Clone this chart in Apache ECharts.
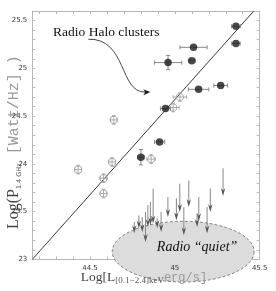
<!DOCTYPE html>
<html><head><meta charset="utf-8">
<script src="https://cdn.jsdelivr.net/npm/echarts@6/dist/echarts.min.js"></script>
<style>html,body{margin:0;padding:0;background:#fff}#c{width:276px;height:291px}</style>
</head><body><div id="c"></div>
<script>
// ---- axis ranges & ticks ----
const xMin = 44.16, xMax = 45.5, yMin = 23, yMax = 25.6;
const xMajor = [44.5, 45, 45.5];
const yMajor = [23, 23.5, 24, 24.5, 25, 25.5];
const xMinor = [44.2,44.3,44.4,44.5,44.6,44.7,44.8,44.9,45,45.1,45.2,45.3,45.4,45.5];
const yMinor = [23.1,23.2,23.3,23.4,23.5,23.6,23.7,23.8,23.9,24,24.1,24.2,24.3,24.4,24.5,24.6,24.7,24.8,24.9,25,25.1,25.2,25.3,25.4,25.5];

// ---- Radio halo clusters (filled) ----
const haloX    = [45.36, 45.36, 45.11, 44.96, 45.10, 45.27, 45.14, 44.945, 44.91, 44.80];
const haloY    = [25.44, 25.26, 25.22, 25.06, 25.08, 24.82, 24.78, 24.58, 24.23, 24.07];
const haloXErr = [0.026, 0.025, 0.08, 0.08, 0.02, 0.04, 0.06, 0.03, 0.03, 0.02];
const haloYErr = [0.0, 0.0, 0.0, 0.075, 0.0, 0.0, 0.0, 0.0, 0.0, 0.08];

// ---- other detections (open) ----
const openX    = [45.03, 44.99, 44.86, 44.64, 44.43, 44.63, 44.58, 44.58];
const openY    = [24.70, 24.59, 24.05, 24.46, 23.94, 24.02, 23.85, 23.69];
const openXErr = [0.04, 0.035, 0.025, 0.02, 0.02, 0.02, 0.02, 0.02];
const openYErr = [0.045, 0.045, 0.045, 0.045, 0.045, 0.045, 0.045, 0.045];

// ---- upper limits (arrows) ----
const ulX      = [45.284,45.209,45.141,45.19,45.131,45.082,45.029,45.053,45.009,44.959,44.919,44.872,44.856,44.841,44.827,44.808,44.788,44.896,44.761];
const ulTop    = [23.954,23.743,23.652,23.548,23.482,23.826,23.792,23.548,23.639,23.652,23.496,23.74,23.6,23.566,23.496,23.444,23.461,23.43,23.392];
const ulBottom = [23.663,23.496,23.399,23.271,23.34,23.548,23.496,23.253,23.409,23.444,23.288,23.375,23.357,23.34,23.183,23.288,23.323,23.326,23.274];

// ---- fit line ----
const fitX = [44.16, 45.465];
const fitY = [23.0, 25.6];

// ---- "radio quiet" region (centre x, centre y, radius x, radius y) ----
const quietRegion = [45.049, 23.081, 0.418, 0.318];

// ---- annotations ----
const haloLabel = 'Radio Halo clusters';
const haloLabelPos = [44.596, 25.378];
const quietLabel = 'Radio \u201cquiet\u201d';
const quietLabelPos = [45.131, 23.128];
const curvePts = [[44.49, 25.305], [44.719, 25.316], [44.672, 24.743], [44.855, 24.753]];

const chart = echarts.init(document.getElementById('c'), null, {renderer: 'canvas'});

const frameColor = '#b8b8b8';
const labelStyle = {fontFamily: 'DejaVu Sans', fontSize: 7, color: '#333'};

function errRender(color, capHalf) {
  return function (params, api) {
    const x = api.value(0), y = api.value(1), dx = api.value(2), dy = api.value(3);
    const st = {stroke: color, lineWidth: 1};
    const ch = [];
    if (dx > 0) {
      const l = api.coord([x - dx, y]), r = api.coord([x + dx, y]);
      ch.push({type: 'line', shape: {x1: l[0], y1: l[1], x2: r[0], y2: r[1]}, style: st});
      ch.push({type: 'line', shape: {x1: l[0], y1: l[1] - capHalf, x2: l[0], y2: l[1] + capHalf}, style: st});
      ch.push({type: 'line', shape: {x1: r[0], y1: r[1] - capHalf, x2: r[0], y2: r[1] + capHalf}, style: st});
    }
    if (dy > 0) {
      const t = api.coord([x, y + dy]), b = api.coord([x, y - dy]);
      ch.push({type: 'line', shape: {x1: t[0], y1: t[1], x2: b[0], y2: b[1]}, style: st});
      ch.push({type: 'line', shape: {x1: t[0] - capHalf, y1: t[1], x2: t[0] + capHalf, y2: t[1]}, style: st});
      ch.push({type: 'line', shape: {x1: b[0] - capHalf, y1: b[1], x2: b[0] + capHalf, y2: b[1]}, style: st});
    }
    return {type: 'group', children: ch};
  };
}

const option = {
  animation: false,
  backgroundColor: '#fff',
  grid: {left: 32.3, right: 16.3, top: 11, bottom: 31.6, containLabel: false, outerBoundsMode: 'none'},
  xAxis: [
    { type: 'value', min: xMin, max: xMax, position: 'bottom',
      axisLine: {show: true, onZero: false, lineStyle: {color: frameColor, width: 1}},
      axisTick: {show: true, inside: true, length: 3, customValues: xMinor, lineStyle: {color: frameColor}},
      axisLabel: {show: false}, splitLine: {show: false} },
    { type: 'value', min: xMin, max: xMax, position: 'top',
      axisLine: {show: true, onZero: false, lineStyle: {color: frameColor, width: 1}},
      axisTick: {show: true, inside: true, length: 3, customValues: xMinor, lineStyle: {color: frameColor}},
      axisLabel: {show: false}, splitLine: {show: false} },
    { type: 'value', min: xMin, max: xMax, position: 'bottom', z: 10,
      axisLine: {show: false}, axisTick: {show: false}, splitLine: {show: false},
      axisLabel: Object.assign({show: true, margin: 5, customValues: xMajor}, labelStyle),
      name: '{m|Log[L}{s|[0.1\u22122.4]keV}{u|erg/s]}',
      nameLocation: 'middle', nameGap: 10, nameMoveOverlap: false,
      nameTextStyle: {
        padding: [0, 4, 0, 0],
        rich: {
          m: {fontFamily: 'Liberation Serif', fontSize: 13.5, color: '#444', lineHeight: 16, verticalAlign: 'middle'},
          s: {fontFamily: 'Liberation Serif', fontSize: 9, color: '#555', lineHeight: 8, verticalAlign: 'bottom'},
          u: {fontFamily: 'Liberation Mono', fontSize: 12, color: '#999', lineHeight: 16, verticalAlign: 'middle'}
        }
      } }
  ],
  yAxis: [
    { type: 'value', min: yMin, max: yMax, position: 'left',
      axisLine: {show: true, onZero: false, lineStyle: {color: frameColor, width: 1}},
      axisTick: {show: true, inside: true, length: 3, customValues: yMinor, lineStyle: {color: frameColor}},
      axisLabel: Object.assign({show: true, margin: 5, customValues: yMajor}, labelStyle),
      splitLine: {show: false},
      name: '{m|Log(P}{s|1.4 GHz}{u| [Watt/Hz] )}',
      nameLocation: 'middle', nameRotate: 90, nameGap: 9, nameMoveOverlap: false,
      nameTextStyle: {
        padding: [0, 14, 0, 0],
        rich: {
          m: {fontFamily: 'Liberation Serif', fontSize: 16, color: '#444', lineHeight: 19, verticalAlign: 'middle'},
          s: {fontFamily: 'DejaVu Sans', fontSize: 6.5, color: '#555', lineHeight: 7, verticalAlign: 'bottom'},
          u: {fontFamily: 'Liberation Mono', fontSize: 15, color: '#999', lineHeight: 19, verticalAlign: 'middle'}
        }
      } },
    { type: 'value', min: yMin, max: yMax, position: 'right',
      axisLine: {show: true, onZero: false, lineStyle: {color: frameColor, width: 1}},
      axisTick: {show: true, inside: true, length: 3, customValues: yMinor, lineStyle: {color: frameColor}},
      axisLabel: {show: false}, splitLine: {show: false} }
  ],
  series: [
    { // radio quiet region
      type: 'custom', clip: false, z: 1, silent: true,
      data: [quietRegion],
      renderItem: function (params, api) {
        const c = api.coord([api.value(0), api.value(1)]);
        const sz = api.size([api.value(2), api.value(3)]);
        const pts = [];
        for (let k = 0; k < 90; k++) {
          const a = k / 90 * Math.PI * 2;
          pts.push([c[0] + sz[0] * Math.cos(a), c[1] + sz[1] * Math.sin(a)]);
        }
        return {type: 'polygon', shape: {points: pts},
          style: {fill: '#dcdcdc', stroke: '#666', lineWidth: 0.8, lineDash: [3, 2]}};
      }
    },
    { // fit line
      type: 'line', z: 3, symbol: 'none', silent: true,
      data: fitX.map((x, i) => [x, fitY[i]]),
      lineStyle: {color: '#222', width: 0.9}
    },
    { // upper-limit arrows
      type: 'custom', clip: false, z: 4, silent: true,
      data: ulX.map((x, i) => [x, ulTop[i], ulBottom[i]]),
      renderItem: function (params, api) {
        const t = api.coord([api.value(0), api.value(1)]);
        const b = api.coord([api.value(0), api.value(2)]);
        return {type: 'group', children: [
          {type: 'line', shape: {x1: t[0], y1: t[1], x2: b[0], y2: b[1] - 3}, style: {stroke: '#888', lineWidth: 1}},
          {type: 'polygon', shape: {points: [[b[0] - 2.2, b[1] - 8], [b[0], b[1] - 5.5], [b[0] + 2.2, b[1] - 8], [b[0], b[1]]]},
            style: {fill: '#555'}}
        ]};
      }
    },
    { // open point error bars
      type: 'custom', clip: false, z: 5, silent: true,
      data: openX.map((x, i) => [x, openY[i], openXErr[i], openYErr[i]]),
      renderItem: errRender('#aaa', 1.8)
    },
    { // open points
      type: 'scatter', z: 6, symbol: 'circle', symbolSize: 7.5,
      data: openX.map((x, i) => [x, openY[i]]),
      itemStyle: {color: 'rgba(255,255,255,0)', borderColor: '#a0a0a0', borderWidth: 1}
    },
    { // halo error bars
      type: 'custom', clip: false, z: 7, silent: true,
      data: haloX.map((x, i) => [x, haloY[i], haloXErr[i], haloYErr[i]]),
      renderItem: errRender('#888', 2)
    },
    { // halo points
      type: 'scatter', z: 8, symbol: 'circle', symbolSize: 7.5,
      data: haloX.map((x, i) => [x, haloY[i]]),
      itemStyle: {color: '#1c1c1c', borderColor: '#1c1c1c', borderWidth: 0}
    }
  ]
};
chart.setOption(option);

// annotations placed from data coordinates
const toPx = p => chart.convertToPixel({xAxisIndex: 0, yAxisIndex: 0}, p);
const cp = curvePts.map(toPx);
const tip = cp[3];
const dxA = cp[3][0] - cp[2][0], dyA = cp[3][1] - cp[2][1];
const lenA = Math.hypot(dxA, dyA);
const ux = dxA / lenA, uy = dyA / lenA;
const headL = 7, headW = 3;
const hb = [tip[0] - ux * headL, tip[1] - uy * headL];
const hl = toPx(haloLabelPos), ql = toPx(quietLabelPos);
chart.setOption({
  graphic: [
    {type: 'bezierCurve', z: 20, silent: true,
      shape: {x1: cp[0][0], y1: cp[0][1], cpx1: cp[1][0], cpy1: cp[1][1], cpx2: cp[2][0], cpy2: cp[2][1], x2: hb[0] + ux * 2, y2: hb[1] + uy * 2},
      style: {stroke: '#333', lineWidth: 0.9, fill: null}},
    {type: 'polygon', z: 20, silent: true,
      shape: {points: [tip, [hb[0] - uy * headW, hb[1] + ux * headW], [hb[0] + ux * 2, hb[1] + uy * 2], [hb[0] + uy * headW, hb[1] - ux * headW]]},
      style: {fill: '#111'}},
    {type: 'text', z: 20, silent: true, x: hl[0], y: hl[1],
      style: {text: haloLabel, fontFamily: 'Liberation Serif', fontSize: 13.5, fill: '#111', align: 'center', verticalAlign: 'middle'}},
    {type: 'text', z: 20, silent: true, x: ql[0], y: ql[1],
      style: {text: quietLabel, fontFamily: 'Liberation Serif', fontStyle: 'italic', fontSize: 14, fill: '#111', align: 'center', verticalAlign: 'middle'}}
  ]
});
</script>
</body></html>
